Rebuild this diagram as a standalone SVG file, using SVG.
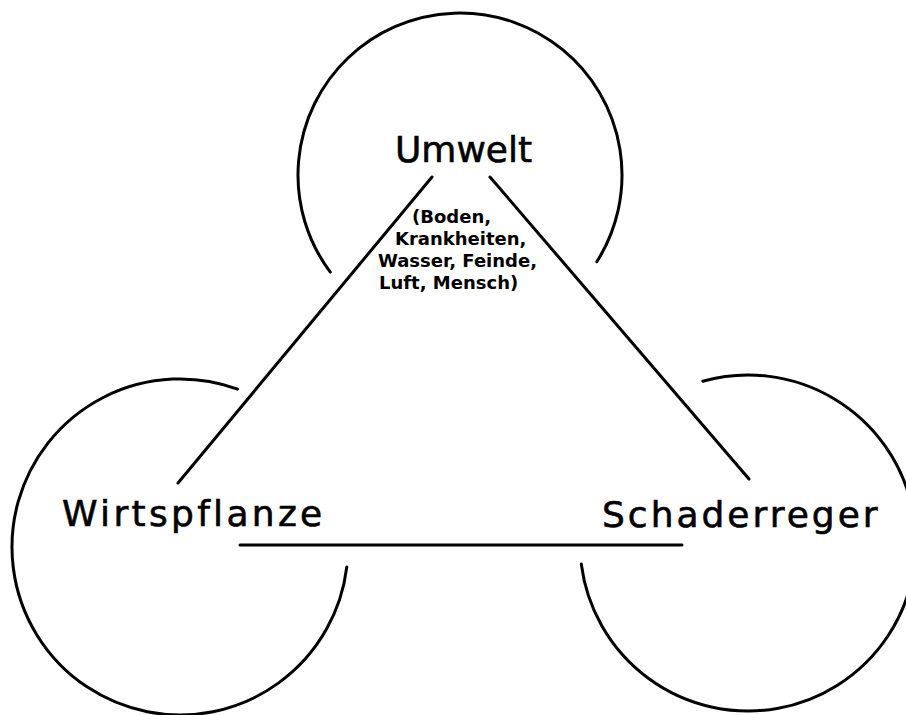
<svg xmlns="http://www.w3.org/2000/svg" width="906" height="715" viewBox="0 0 906 715">
<style>
.arc{fill:none;stroke:#000;stroke-width:3;stroke-linecap:round}
.con{stroke:#000;stroke-width:3;stroke-linecap:round}
.big{font-family:"DejaVu Sans",sans-serif;font-size:36px;fill:#000;stroke:#000;stroke-width:0.6}
.small{font-family:"DejaVu Sans",sans-serif;font-size:18px;font-weight:bold;fill:#000}
</style>
<rect width="906" height="715" fill="#fff"/>
<g id="umwelt">
<path class="arc" d="M330.3,272.1 A162,162 0 1 1 596.8,261.8"/>
<text class="big" x="395" y="162">Umwelt</text>
<text class="small"><tspan x="412" y="223">(Boden,</tspan><tspan x="395" y="245">Krankheiten,</tspan><tspan x="378" y="267">Wasser, Feinde,</tspan><tspan x="379" y="289">Luft, Mensch)</tspan></text>
</g>
<g id="wirtspflanze">
<path class="arc" d="M237.5,389.1 A168,168 0 1 0 346.8,566.9"/>
<text class="big" x="62" y="526" letter-spacing="3.3">Wirtspflanze</text>
</g>
<g id="schaderreger">
<path class="arc" d="M702.8,381.2 A168,168 0 1 1 581.3,564.1"/>
<text class="big" x="602" y="527" letter-spacing="3">Schaderreger</text>
</g>
<g id="connectors">
<line class="con" x1="432" y1="177" x2="178" y2="483"/>
<line class="con" x1="490" y1="177" x2="749" y2="479"/>
<line class="con" x1="240" y1="545" x2="682" y2="545"/>
</g>
</svg>
